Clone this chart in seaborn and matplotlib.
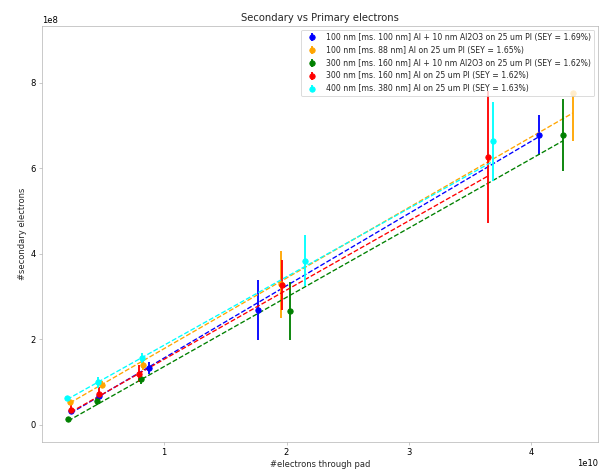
import matplotlib
matplotlib.use("Agg")
import matplotlib.pyplot as plt
import numpy as np
import seaborn as sns

# electrons through pad (x) and secondary electrons (y), per sample
labels = [
    "100 nm [ms. 100 nm] Al + 10 nm Al2O3 on 25 um PI (SEY = 1.69%)",
    "100 nm [ms. 88 nm] Al on 25 um PI (SEY = 1.65%)",
    "300 nm [ms. 160 nm] Al + 10 nm Al2O3 on 25 um PI (SEY = 1.62%)",
    "300 nm [ms. 160 nm] Al on 25 um PI (SEY = 1.62%)",
    "400 nm [ms. 380 nm] Al on 25 um PI (SEY = 1.63%)",
]
colors = ["blue", "orange", "green", "red", "cyan"]

x_blue = [0.238e10, 0.468e10, 0.875e10, 1.766e10, 4.06e10]
y_blue = [0.31e8, 0.66e8, 1.325e8, 2.69e8, 6.78e8]
e_blue = [0.05e8, 0.06e8, 0.15e8, 0.70e8, 0.47e8]

x_orange = [0.230e10, 0.496e10, 0.827e10, 1.958e10, 4.34e10]
y_orange = [0.52e8, 0.935e8, 1.40e8, 3.28e8, 7.77e8]
e_orange_lo = [0.05e8, 0.08e8, 0.12e8, 0.78e8, 1.14e8]
e_orange_hi = [0.05e8, 0.08e8, 0.12e8, 0.78e8, 0.0]

x_green = [0.216e10, 0.455e10, 0.808e10, 2.03e10, 4.26e10]
y_green = [0.13e8, 0.545e8, 1.076e8, 2.65e8, 6.78e8]
e_green = [0.04e8, 0.08e8, 0.12e8, 0.68e8, 0.85e8]

x_red = [0.238e10, 0.468e10, 0.794e10, 1.962e10, 3.643e10]
y_red = [0.35e8, 0.725e8, 1.19e8, 3.27e8, 6.26e8]
e_red = [0.10e8, 0.15e8, 0.20e8, 0.58e8, 1.54e8]

x_cyan = [0.207e10, 0.463e10, 0.816e10, 2.15e10, 3.69e10]
y_cyan = [0.62e8, 0.99e8, 1.56e8, 3.84e8, 6.63e8]
e_cyan = [0.05e8, 0.12e8, 0.12e8, 0.60e8, 0.92e8]

# linear fit parameters (slope, intercept) per sample
fit_slope = [0.0169, 0.0165, 0.0162, 0.0162, 0.0160]
fit_intercept = [-0.13e8, 0.13e8, -0.26e8, -0.09e8, 0.26e8]

xs = [x_blue, x_orange, x_green, x_red, x_cyan]
ys = [y_blue, y_orange, y_green, y_red, y_cyan]
es = [e_blue, [e_orange_lo, e_orange_hi], e_green, e_red, e_cyan]

sns.set_style("white", {"axes.edgecolor": "#b0b0b0", "xtick.bottom": True, "ytick.left": True,
                        "xtick.color": "#b0b0b0", "ytick.color": "#b0b0b0"})
plt.rcParams["font.family"] = ["DejaVu Sans"]
plt.rcParams["xtick.labelcolor"] = "black"
plt.rcParams["ytick.labelcolor"] = "black"

fig, ax = plt.subplots(figsize=(606 / 60, 470 / 60), dpi=60)
fig.subplots_adjust(left=0.069, right=0.987, top=0.945, bottom=0.06)

for x, y, e, c, lab, m, b in zip(xs, ys, es, colors, labels, fit_slope, fit_intercept):
    ax.errorbar(x, y, yerr=e, fmt="o", color=c, ecolor=c, elinewidth=2.2,
                markersize=6.5, label=lab)
    xf = np.array([min(x), max(x)])
    sns.lineplot(x=xf, y=m * xf + b, ax=ax, color=c, linestyle="--", linewidth=1.6, legend=False)

ax.set_ylim(-0.40e8, 9.33e8)
ax.set_title("Secondary vs Primary electrons")
ax.set_xlabel("#electrons through pad")
ax.set_ylabel("#secondary electrons")
ax.legend(loc="upper right", fontsize=9.3)

fig.savefig("out.png", dpi=60)
